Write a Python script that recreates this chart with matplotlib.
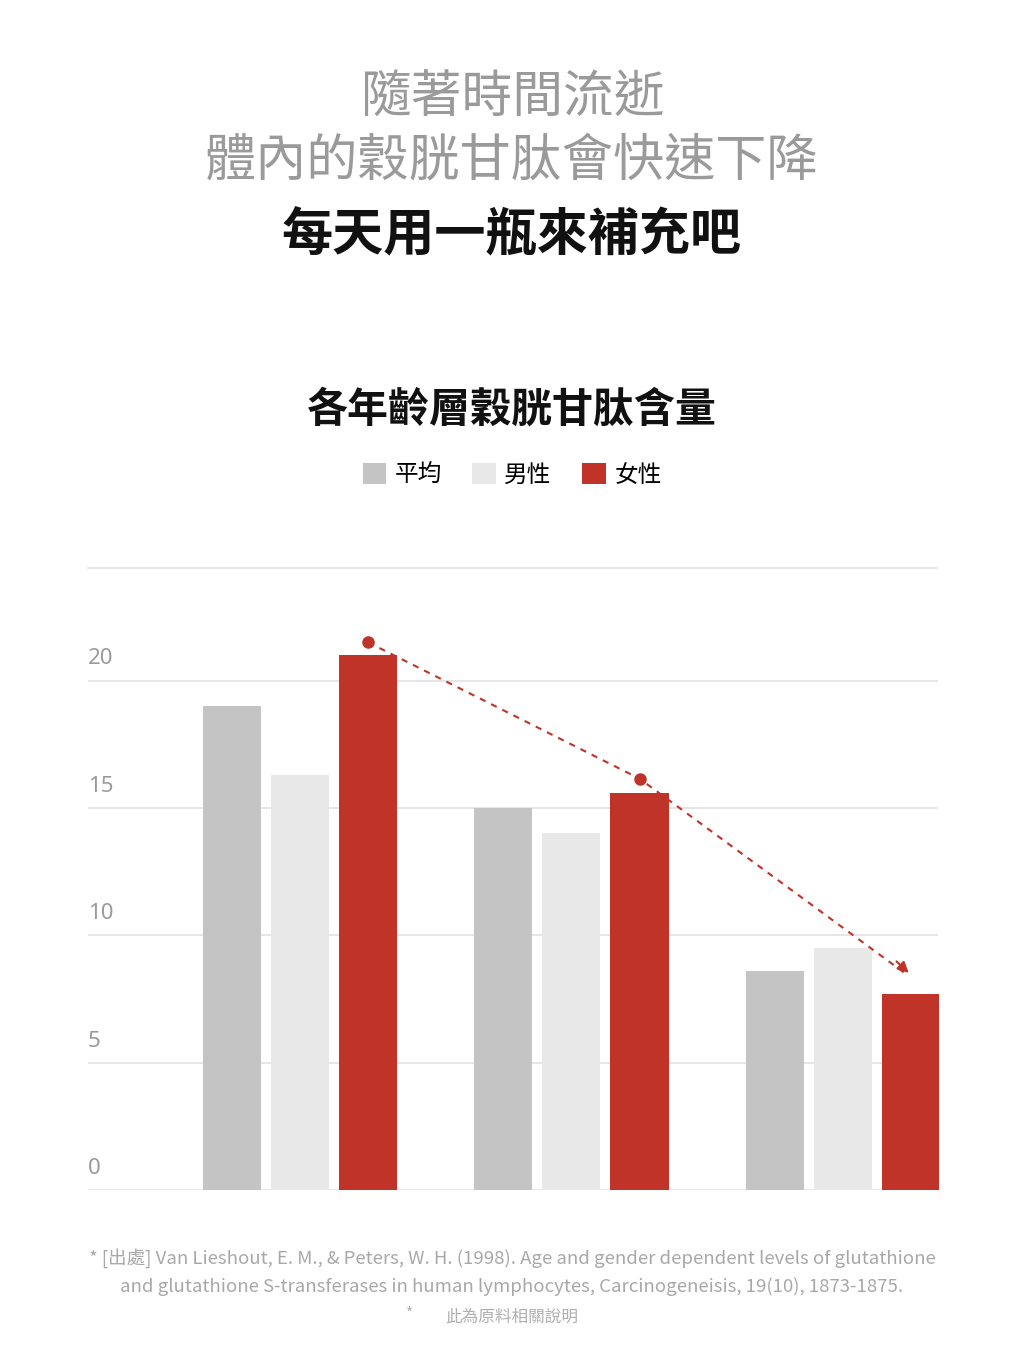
import matplotlib
matplotlib.use("Agg")
import matplotlib.pyplot as plt
import numpy as np
from matplotlib.patches import Patch

plt.rcParams["font.family"] = ["Noto Sans CJK TC", "DejaVu Sans"]

# data
groups = ["group 1", "group 2", "group 3"]
series_names = ["平均", "男性", "女性"]
avg_vals = [19.0, 15.0, 8.6]
male_vals = [16.3, 14.0, 9.5]
female_vals = [21.0, 15.6, 7.7]
yticks = [0, 5, 10, 15, 20]

colors = ["#c4c4c4", "#e8e8e8", "#bf3328"]
grey_text = "#9a9a9a"

fig = plt.figure(figsize=(10.24, 13.65), dpi=100)
W, H = 1024, 1365

# headline
fig.text(0.5, 1 - 99 / H, "隨著時間流逝", ha="center", va="center",
         fontsize=36.5, color=grey_text, fontweight="medium")
fig.text(0.5, 1 - 161 / H, "體內的穀胱甘肽會快速下降", ha="center", va="center",
         fontsize=36.8, color=grey_text, fontweight="medium")
fig.text(0.5, 1 - 236 / H, "每天用一瓶來補充吧", ha="center", va="center",
         fontsize=36.8, color="#111111", fontweight="bold")
fig.text(0.5, 1 - 410 / H, "各年齡層穀胱甘肽含量", ha="center", va="center",
         fontsize=29.5, color="#111111", fontweight="bold")

# axes: pixel box 88..939 x 568..1190
ax = fig.add_axes([88 / W, 1 - 1190 / H, (939 - 88) / W, (1190 - 568) / H])
x = np.arange(len(groups))
width = 0.214
step = 0.251
for i, (vals, c) in enumerate(zip([avg_vals, male_vals, female_vals], colors)):
    ax.bar(x + (i - 1) * step, vals, width=width, color=c, zorder=3)

ax.set_xlim(-0.782, 2.355)
ax.set_ylim(0, 24.42)
for v in yticks:
    ax.axhline(v, xmin=0, xmax=(937 - 88) / (939 - 88), color="#e2e2e2",
               lw=1.2, zorder=1)
    ax.annotate(str(v), xy=(0, v), xycoords=("axes fraction", "data"),
                xytext=(0, 8), textcoords="offset points",
                ha="left", va="bottom", fontsize=16, color=grey_text,
                family=["Noto Sans", "DejaVu Sans"])
ax.axhline(24.42, xmax=(937 - 88) / (939 - 88), color="#e2e2e2", lw=1.2,
           zorder=1, clip_on=False)
ax.set_xticks([])
ax.set_yticks([])
for s in ax.spines.values():
    s.set_visible(False)

# trend line over female bars
fx = x + step
dots_y = [female_vals[0] + 0.5, female_vals[1] + 0.55]
end_y = female_vals[2] + 0.75
ax.plot([fx[0], fx[1], fx[2] - 0.02], [dots_y[0], dots_y[1], end_y + 0.05],
        ls=(0, (3, 3)), color="#bf3328", lw=1.5, zorder=4)
ax.plot(fx[:2], dots_y, "o", color="#bf3328", ms=8, zorder=5)
ax.annotate("", xy=(fx[2], end_y), xytext=(fx[2] - 0.06, end_y + 0.6),
            arrowprops=dict(arrowstyle="-|>", color="#bf3328", lw=1.5,
                            mutation_scale=16), zorder=5)

# legend
handles = [Patch(facecolor=c, edgecolor="none") for c in colors]
fig.legend(handles, series_names, loc="center", ncol=3,
           bbox_to_anchor=(0.5, 1 - 475 / H), frameon=False, fontsize=17,
           handlelength=1.0, handleheight=1.0, handletextpad=0.35,
           columnspacing=1.3)

# source note
foot_font = ["Liberation Sans Narrow", "Noto Sans CJK TC"]
fig.text(0.5, 1 - 1258 / H,
         "* [出處] Van Lieshout, E. M., & Peters, W. H. (1998). Age and gender "
         "dependent levels of glutathione",
         ha="center", va="center", fontsize=13.4, color="#a8a8a8",
         family=foot_font)
fig.text(0.5, 1 - 1287 / H,
         "and glutathione S-transferases in human lymphocytes, Carcinogeneisis, "
         "19(10), 1873-1875.",
         ha="center", va="center", fontsize=13.4, color="#a8a8a8",
         family=foot_font)
fig.text(410 / W, 1 - 1314 / H, "*", ha="center", va="center",
         fontsize=11, color="#b0b0b0")
fig.text(445 / W, 1 - 1317 / H, "此為原料相關說明", ha="left",
         va="center", fontsize=12, color="#b0b0b0")

fig.savefig("out.png", dpi=100)
